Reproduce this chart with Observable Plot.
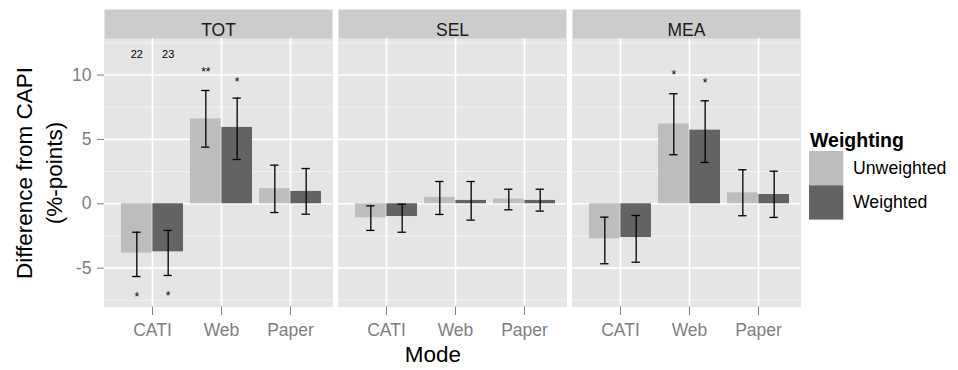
<!DOCTYPE html>
<html><head><meta charset="utf-8">
<script src="https://cdn.jsdelivr.net/npm/d3@7"></script>
<script src="https://cdn.jsdelivr.net/npm/@observablehq/plot@0.6"></script>
<style>
body{margin:0;background:#fff;}
#chart{position:relative;width:958px;height:370px;}
</style></head><body><div id="chart"></div>
<script>
const measures = ["TOT","SEL","MEA"];
const modes = ["CATI","Web","Paper"];
const weightings = ["Unweighted","Weighted"];
const fills = ["#BDBDBD","#636363"];
// value order in each array: CATI-Unw, CATI-W, Web-Unw, Web-W, Paper-Unw, Paper-W
const totEstimate = [-3.84, -3.73, 6.60, 5.93, 1.17, 0.96];
const totLower    = [-5.65, -5.57, 4.40, 3.44, -0.68, -0.81];
const totUpper    = [-2.21, -2.07, 8.80, 8.21, 3.00, 2.74];
const selEstimate = [-1.09, -0.99, 0.49, 0.26, 0.36, 0.26];
const selLower    = [-2.07, -2.21, -0.83, -1.27, -0.47, -0.57];
const selUpper    = [-0.16, -0.03, 1.73, 1.73, 1.13, 1.13];
const meaEstimate = [-2.72, -2.62, 6.20, 5.72, 0.85, 0.72];
const meaLower    = [-4.66, -4.54, 3.81, 3.21, -0.93, -1.06];
const meaUpper    = [-1.04, -0.91, 8.55, 8.00, 2.64, 2.53];
const yTicks = [-5, 0, 5, 10];
const yMinor = [-7.5, -2.5, 2.5, 7.5, 12.5];
// significance / count labels
const labelMeasure   = ["TOT","TOT","TOT","TOT","TOT","TOT","MEA","MEA"];
const labelMode      = ["CATI","CATI","CATI","CATI","Web","Web","Web","Web"];
const labelWeighting = ["Unweighted","Weighted","Unweighted","Weighted","Unweighted","Weighted","Unweighted","Weighted"];
const labelText      = ["22","23","*","*","**","*","*","*"];
const labelY         = [11.6, 11.6, -7.05, -6.95, 10.43, 9.68, 10.22, 9.63];

const series = {TOT: [totEstimate, totLower, totUpper], SEL: [selEstimate, selLower, selUpper], MEA: [meaEstimate, meaLower, meaUpper]};
const rows = [];
measures.forEach(m => {
  const [e, l, u] = series[m];
  modes.forEach((mode, i) => weightings.forEach((w, j) => {
    const k = i * 2 + j;
    rows.push({measure: m, mode, weighting: w, estimate: e[k], lower: l[k], upper: u[k]});
  }));
});
const labels = labelText.map((t, i) => ({measure: labelMeasure[i], mode: labelMode[i], weighting: labelWeighting[i], text: t, y: labelY[i], star: t.includes("*")}));

const FONT = '"Liberation Sans", Arial, sans-serif';
const bw = 62.7;      // bar-group band width (px)
const capW = 9;
const dxOf = w => w === "Unweighted" ? -bw / 4 : bw / 4;
const byW = (arr, w) => arr.filter(d => d.weighting === w);

const marks = [
  Plot.frame({fill: "#CCCCCC", stroke: "none", insetTop: -29}),
  Plot.frame({fill: "#E5E5E5", stroke: "none"}),
  Plot.ruleY(yMinor, {stroke: "#F2F2F2", strokeWidth: 1}),
  Plot.ruleY(yTicks, {stroke: "#FFFFFF", strokeWidth: 1.6}),
  Plot.ruleX(modes, {x: d => d, stroke: "#FFFFFF", strokeWidth: 1.6})
];
weightings.forEach((w, j) => {
  marks.push(Plot.barY(byW(rows, w), {fx: "measure", x: "mode", y: "estimate", fill: "weighting",
    insetLeft: j ? bw / 2 : 0, insetRight: j ? 0 : bw / 2}));
});
weightings.forEach(w => {
  const d = byW(rows, w);
  const inset = (bw - capW) / 2;
  marks.push(Plot.ruleX(d, {fx: "measure", x: "mode", y1: "lower", y2: "upper", dx: dxOf(w), stroke: "#000", strokeWidth: 1.3}));
  marks.push(Plot.tickY(d, {fx: "measure", x: "mode", y: "lower", dx: dxOf(w), insetLeft: inset, insetRight: inset, stroke: "#000", strokeWidth: 1.3}));
  marks.push(Plot.tickY(d, {fx: "measure", x: "mode", y: "upper", dx: dxOf(w), insetLeft: inset, insetRight: inset, stroke: "#000", strokeWidth: 1.3}));
  const lw = byW(labels, w);
  marks.push(Plot.text(lw.filter(l => !l.star), {fx: "measure", x: "mode", y: "y", text: "text", dx: dxOf(w), fill: "#000", fontSize: 11}));
  marks.push(Plot.text(lw.filter(l => l.star), {fx: "measure", x: "mode", y: "y", text: "text", dx: dxOf(w), dy: 3, fill: "#000", fontSize: 12}));
});
marks.push(Plot.text(measures, {fx: d => d, text: d => d, frameAnchor: "top", dy: -14.5, fill: "#1A1A1A", fontSize: 17.5}));

const chart = Plot.plot({
  width: 958, height: 370,
  marginTop: 38, marginBottom: 64, marginLeft: 103, marginRight: 158,
  style: {fontFamily: FONT, fontSize: "17.5px", color: "#7F7F7F", background: "transparent"},
  fx: {domain: measures, paddingInner: 0.026, paddingOuter: 0, axis: null, label: null},
  x: {domain: modes, paddingInner: 0.1, paddingOuter: 0.188, align: 0.614, tickSize: 9, tickPadding: 8, label: null},
  y: {domain: [-7.98, 12.84], ticks: yTicks, tickSize: 7, tickPadding: 6, tickFormat: d => String(d), label: null},
  color: {domain: weightings, range: fills},
  marks
});
document.getElementById("chart").appendChild(chart);

const svg = d3.select(chart.tagName.toLowerCase() === "svg" ? chart : chart.querySelector("svg"));
// axis titles
svg.append("text").attr("transform", "translate(31.5,173) rotate(-90)").attr("text-anchor", "middle")
  .attr("font-family", FONT).attr("font-size", 22.5).attr("fill", "#000").text("Difference from CAPI");
svg.append("text").attr("transform", "translate(61.5,173) rotate(-90)").attr("text-anchor", "middle")
  .attr("font-family", FONT).attr("font-size", 22.5).attr("fill", "#000").text("(%-points)");
svg.append("text").attr("x", 433).attr("y", 362).attr("text-anchor", "middle")
  .attr("font-family", FONT).attr("font-size", 22.5).attr("fill", "#000").text("Mode");
// legend
const col = chart.scale("color");
const lg = svg.append("g").attr("font-family", FONT).attr("text-anchor", "start");
lg.append("text").attr("x", 810).attr("y", 147).attr("font-weight", "bold").attr("font-size", 19.5).attr("fill", "#000").text("Weighting");
col.domain.forEach((w, i) => {
  lg.append("rect").attr("x", 809).attr("y", 151 + i * 34.3).attr("width", 34.3).attr("height", 34.3).attr("fill", col.range[i]);
  lg.append("text").attr("x", 853).attr("y", 168 + i * 34.3).attr("dy", "0.35em").attr("font-size", 17.7).attr("fill", "#000").text(w);
});
</script></body></html>
